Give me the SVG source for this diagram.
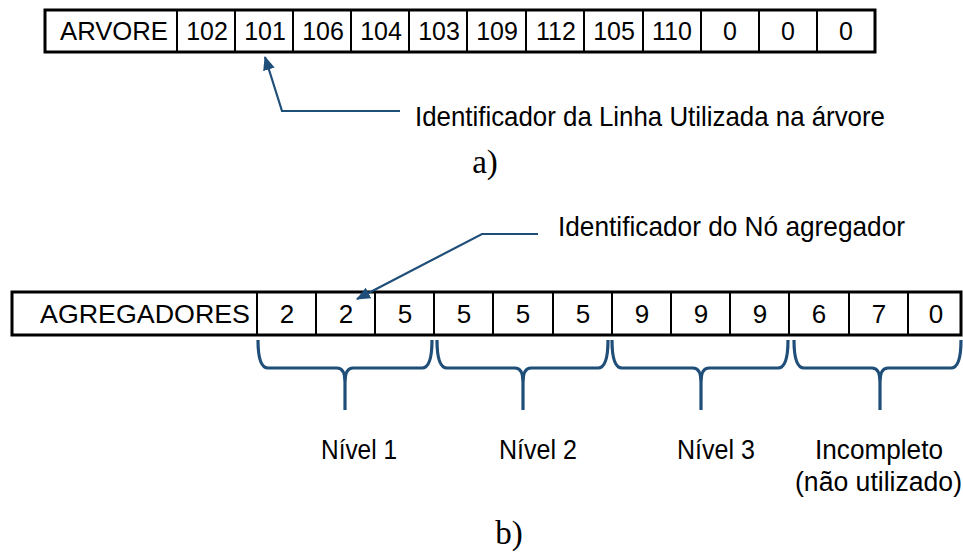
<svg xmlns="http://www.w3.org/2000/svg" width="963" height="553" viewBox="0 0 963 553">
  <style>
    .cell { fill: #ffffff; stroke: #000000; stroke-width: 2; }
    .frame { fill: none; stroke: #000000; stroke-width: 3; }
    .t { font-family: "Liberation Sans", Arial, sans-serif; fill: #000000; }
    .c { text-anchor: middle; }
    .cap { font-family: "Liberation Serif", "Times New Roman", serif; font-size: 33px; fill: #000000; text-anchor: middle; }
    .lead { fill: none; stroke: #1F4E79; stroke-width: 2.2; }
    .brace { fill: none; stroke: #1F4E79; stroke-width: 3.2; stroke-linejoin: round; }
  </style>
  <defs>
    <marker id="head" viewBox="0 0 14 12" refX="13" refY="6" markerWidth="14" markerHeight="12" markerUnits="userSpaceOnUse" orient="auto">
      <path d="M0,0 L14,6 L0,12 Z" fill="#1F4E79"/>
    </marker>
  </defs>

  <rect width="963" height="553" fill="#ffffff"/>

  <!-- a) tree vector -->
  <g id="arvore-row" class="t" font-size="25">
    <rect class="cell" x="45" y="10" width="830" height="42"/>
    <g stroke="#000" stroke-width="2">
      <line x1="177" y1="10" x2="177" y2="52"/>
      <line x1="235" y1="10" x2="235" y2="52"/>
      <line x1="293" y1="10" x2="293" y2="52"/>
      <line x1="351" y1="10" x2="351" y2="52"/>
      <line x1="409" y1="10" x2="409" y2="52"/>
      <line x1="467" y1="10" x2="467" y2="52"/>
      <line x1="526" y1="10" x2="526" y2="52"/>
      <line x1="584" y1="10" x2="584" y2="52"/>
      <line x1="643" y1="10" x2="643" y2="52"/>
      <line x1="701" y1="10" x2="701" y2="52"/>
      <line x1="759" y1="10" x2="759" y2="52"/>
      <line x1="817" y1="10" x2="817" y2="52"/>
    </g>
    <rect class="frame" x="45" y="10" width="830" height="42"/>
    <text x="60" y="40" textLength="108" lengthAdjust="spacingAndGlyphs">ARVORE</text>
    <text class="c" x="207" y="40">102</text>
    <text class="c" x="265" y="40">101</text>
    <text class="c" x="323" y="40">106</text>
    <text class="c" x="381" y="40">104</text>
    <text class="c" x="439" y="40">103</text>
    <text class="c" x="497" y="40">109</text>
    <text class="c" x="556" y="40">112</text>
    <text class="c" x="614" y="40">105</text>
    <text class="c" x="672" y="40">110</text>
    <text class="c" x="730" y="40">0</text>
    <text class="c" x="788" y="40">0</text>
    <text class="c" x="846" y="40">0</text>
  </g>

  <g id="label-linha">
    <text class="t" font-size="28" x="415" y="126" textLength="470" lengthAdjust="spacingAndGlyphs">Identificador da Linha Utilizada na árvore</text>
  </g>
  <g id="caption-a">
    <text class="cap" x="485" y="173">a)</text>
  </g>

  <!-- b) aggregator vector -->
  <g id="agregadores-row" class="t" font-size="26">
    <rect class="cell" x="12" y="292" width="949" height="43"/>
    <g stroke="#000" stroke-width="2">
      <line x1="257" y1="292" x2="257" y2="335"/>
      <line x1="316" y1="292" x2="316" y2="335"/>
      <line x1="375" y1="292" x2="375" y2="335"/>
      <line x1="434" y1="292" x2="434" y2="335"/>
      <line x1="493" y1="292" x2="493" y2="335"/>
      <line x1="553" y1="292" x2="553" y2="335"/>
      <line x1="612" y1="292" x2="612" y2="335"/>
      <line x1="671" y1="292" x2="671" y2="335"/>
      <line x1="730" y1="292" x2="730" y2="335"/>
      <line x1="789" y1="292" x2="789" y2="335"/>
      <line x1="849" y1="292" x2="849" y2="335"/>
      <line x1="908" y1="292" x2="908" y2="335"/>
    </g>
    <rect class="frame" x="12" y="292" width="949" height="43"/>
    <text x="40" y="323" textLength="210" lengthAdjust="spacingAndGlyphs">AGREGADORES</text>
    <text class="c" x="287" y="323">2</text>
    <text class="c" x="346" y="323">2</text>
    <text class="c" x="405" y="323">5</text>
    <text class="c" x="464" y="323">5</text>
    <text class="c" x="523" y="323">5</text>
    <text class="c" x="583" y="323">5</text>
    <text class="c" x="642" y="323">9</text>
    <text class="c" x="701" y="323">9</text>
    <text class="c" x="760" y="323">9</text>
    <text class="c" x="819" y="323">6</text>
    <text class="c" x="879" y="323">7</text>
    <text class="c" x="936" y="323">0</text>
  </g>

  <g id="label-no">
    <text class="t" font-size="28" x="558" y="236" textLength="347" lengthAdjust="spacingAndGlyphs">Identificador do Nó agregador</text>
  </g>

  <!-- group braces -->
  <g id="braces">
    <path class="brace" d="M258,340 Q258,368 268,368 L337,368 Q345,368 345,382 L345,410 M345,382 Q345,368 353,368 L422,368 Q432,368 432,340"/>
    <path class="brace" d="M437,340 Q437,368 447,368 L515,368 Q523,368 523,382 L523,410 M523,382 Q523,368 531,368 L598,368 Q608,368 608,340"/>
    <path class="brace" d="M612,340 Q612,368 622,368 L693,368 Q701,368 701,382 L701,410 M701,382 Q701,368 709,368 L778,368 Q788,368 788,340"/>
    <path class="brace" d="M794,340 Q794,368 804,368 L872,368 Q880,368 880,382 L880,410 M880,382 Q880,368 888,368 L951,368 Q961,368 961,340"/>
  </g>

  <g id="level-labels" class="t" font-size="27">
    <text x="321" y="459" textLength="76" lengthAdjust="spacingAndGlyphs">Nível 1</text>
    <text x="499" y="459" textLength="78" lengthAdjust="spacingAndGlyphs">Nível 2</text>
    <text x="677" y="459" textLength="78" lengthAdjust="spacingAndGlyphs">Nível 3</text>
    <text x="815" y="459" textLength="128" lengthAdjust="spacingAndGlyphs">Incompleto</text>
    <text x="795" y="491" textLength="167" lengthAdjust="spacingAndGlyphs">(não utilizado)</text>
  </g>
  <g id="caption-b">
    <text class="cap" x="509" y="544">b)</text>
  </g>

  <!-- leader arrows -->
  <g id="connectors">
    <path class="lead" d="M400,111 L282,111 L265,57" marker-end="url(#head)"/>
    <path class="lead" d="M538,234 L482,234 L357,299" marker-end="url(#head)"/>
  </g>
</svg>
